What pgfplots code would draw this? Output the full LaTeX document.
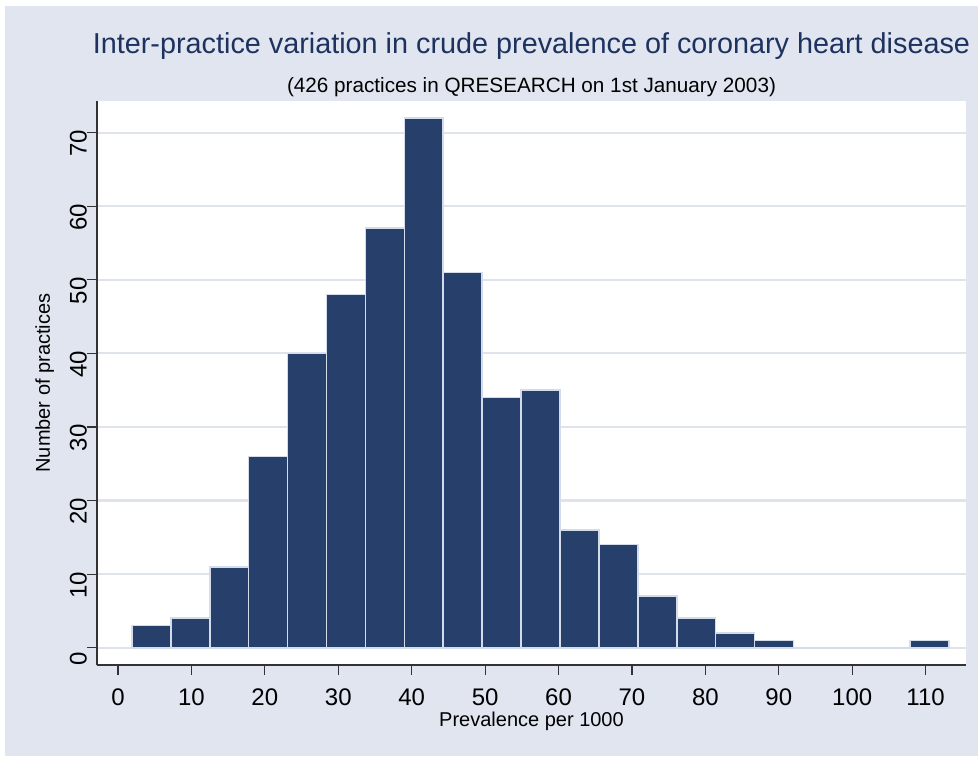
\documentclass[border=0pt]{standalone}
\usepackage{fontspec}
\setmainfont{Liberation Sans}
\usepackage{pgfplots}
\pgfplotsset{compat=1.18}

\definecolor{bgcol}{RGB}{224,229,240}
\definecolor{barcol}{RGB}{38,63,107}
\definecolor{gridcol}{RGB}{222,227,238}
\definecolor{titlecol}{RGB}{30,50,95}
\definecolor{edgecol}{RGB}{212,219,233}

\begin{document}
\begin{tikzpicture}[x=1pt,y=1pt]
\fill[white] (0,0) rectangle (978,756);
\fill[bgcol] (5,0) rectangle (978,750);
\useasboundingbox (0,0) rectangle (978,756);
\begin{axis}[
    at={(97pt,91pt)}, anchor=south west,
    scale only axis, width=869pt, height=564pt,
    xmin=-2.86, xmax=115.5, ymin=-2.35, ymax=74.3,
    axis x line*=bottom, axis y line*=left,
    axis line style={black!80, line width=1.2pt},
    axis background/.style={fill=white},
    xtick={0,10,...,110}, ytick={0,10,...,70},
    tick align=outside, major tick length=10pt,
    tick style={black!80, line width=1.2pt},
    ymajorgrids, grid style={gridcol, line width=2.2pt},
    /pgf/number format/assume math mode=true,
    ticklabel style={font=\fontsize{24}{24}\selectfont, inner sep=0pt},
    xticklabel style={anchor=north, yshift=-14pt},
    yticklabel style={rotate=90, anchor=south, xshift=-11pt},
    xlabel={Prevalence per 1000},
    ylabel={Number of practices},
    label style={font=\fontsize{20}{20}\selectfont},
    xlabel style={at={(axis description cs:0.5,-0.1082)}, anchor=base},
    ylabel style={at={(axis description cs:-0.0541,0.5)}, anchor=base, rotate=0},
    title={Inter-practice variation in crude prevalence of coronary heart disease},
    title style={at={(axis description cs:0.5,1.0727)}, anchor=base,
                 font=\fontsize{28.8}{28.8}\selectfont, text=titlecol},
]
% histogram: 21 bins of width 5.3 starting at 1.9 (last point closes the interval)
\addplot[ybar interval, fill=barcol, draw=edgecol, line width=1.6pt] coordinates {
(1.9,3) (7.2,4) (12.5,11) (17.8,26) (23.1,40) (28.4,48) (33.7,57)
(39.0,72) (44.3,51) (49.6,34) (54.9,35) (60.2,16) (65.5,14) (70.8,7)
(76.1,4) (81.4,2) (86.7,1) (92.0,0) (97.3,0) (102.6,0) (107.9,1) (113.2,1)
};
\end{axis}
\node[anchor=base, font=\fontsize{20.7}{20.7}\selectfont]
    at (531.5,663.3) {(426 practices in QRESEARCH on 1st January 2003)};
\end{tikzpicture}
\end{document}
